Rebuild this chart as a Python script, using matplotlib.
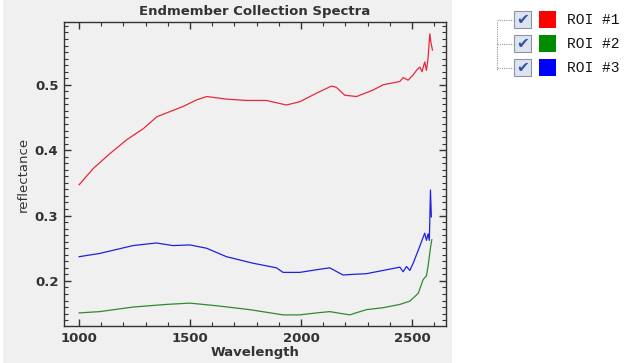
import matplotlib
matplotlib.use("Agg")
import matplotlib.pyplot as plt
from matplotlib.patches import Rectangle
from matplotlib.lines import Line2D
from matplotlib.ticker import MultipleLocator

# spectra (wavelength, reflectance)
wl_red = [1000, 1064, 1140, 1215, 1290, 1350, 1410, 1470, 1530, 1575, 1665, 1755, 1844,
          1934, 1994, 2069, 2137, 2159, 2197, 2250, 2325, 2370, 2445, 2460, 2482, 2505,
          2520, 2535, 2545, 2557, 2565, 2572, 2580, 2585, 2592]
refl_red = [0.347, 0.372, 0.395, 0.416, 0.433, 0.451, 0.459, 0.467, 0.477, 0.482, 0.478,
            0.476, 0.476, 0.469, 0.474, 0.487, 0.498, 0.496, 0.484, 0.482, 0.492, 0.500,
            0.505, 0.511, 0.507, 0.515, 0.522, 0.527, 0.520, 0.535, 0.522, 0.540, 0.578,
            0.565, 0.553]

wl_blue = [1000, 1093, 1243, 1348, 1423, 1499, 1574, 1664, 1784, 1889, 1919, 1994, 2069,
           2129, 2189, 2234, 2294, 2370, 2445, 2460, 2475, 2490, 2505, 2535, 2557, 2565,
           2572, 2578, 2583, 2587]
refl_blue = [0.237, 0.242, 0.254, 0.258, 0.254, 0.255, 0.250, 0.237, 0.227, 0.220, 0.213,
             0.213, 0.217, 0.220, 0.209, 0.210, 0.211, 0.216, 0.221, 0.214, 0.222, 0.216,
             0.227, 0.253, 0.273, 0.262, 0.272, 0.262, 0.339, 0.298]

wl_green = [1000, 1093, 1243, 1393, 1499, 1619, 1769, 1919, 1994, 2069, 2129, 2219, 2294,
            2370, 2445, 2490, 2528, 2550, 2565, 2572, 2584, 2589]
refl_green = [0.151, 0.153, 0.160, 0.164, 0.166, 0.162, 0.156, 0.148, 0.148, 0.151, 0.153,
              0.148, 0.156, 0.159, 0.164, 0.169, 0.181, 0.202, 0.208, 0.222, 0.253, 0.263]

roi_names = ["ROI #1", "ROI #2", "ROI #3"]
roi_colors = ["#ff0000", "#008c00", "#0000ff"]

fig = plt.figure(figsize=(6.27, 3.63), dpi=100, facecolor="white")
# grey panel behind the plot
fig.patches.append(Rectangle((3 / 627, 0), 449 / 627, 1, transform=fig.transFigure,
                             facecolor="#f0f0f0", edgecolor="none", zorder=-5))

ax = fig.add_axes([64 / 627, 1 - 326 / 363, 382 / 627, 304 / 363])
ax.set_facecolor("#f0f0f0")
ax.plot(wl_red, refl_red, color="#e8283c", lw=0.9)
ax.plot(wl_blue, refl_blue, color="#2020e0", lw=0.9)
ax.plot(wl_green, refl_green, color="#2e8b2e", lw=0.9)

ax.set_xlim(932, 2653)
ax.set_ylim(0.131, 0.596)
ax.xaxis.set_major_locator(MultipleLocator(500))
ax.xaxis.set_minor_locator(MultipleLocator(100))
ax.yaxis.set_major_locator(MultipleLocator(0.1))
ax.yaxis.set_minor_locator(MultipleLocator(0.01))
ax.tick_params(which="both", direction="in", top=True, right=True, color="#333333")
ax.tick_params(which="major", length=5, width=1.0)
ax.tick_params(which="minor", length=3, width=0.8)
ax.tick_params(labelsize=9.5, labelcolor="#333333", pad=4)
for lab in ax.get_xticklabels() + ax.get_yticklabels():
    lab.set_fontweight("bold")
for s in ax.spines.values():
    s.set_color("#333333")
    s.set_linewidth(1.0)

ax.set_title("Endmember Collection Spectra", fontsize=9.5, fontweight="bold",
             color="#333333", pad=5)
ax.set_xlabel("Wavelength", fontsize=9.5, fontweight="bold", color="#333333", labelpad=1)
ax.set_ylabel("reflectance", fontsize=9.5, color="#333333", labelpad=4)

# tree style legend on the right
rows_y = [20, 44, 68]
fig.add_artist(Line2D([497 / 627, 497 / 627], [1 - 22 / 363, 1 - 70 / 363],
                      transform=fig.transFigure, color="#999999", lw=0.8, ls=(0, (1, 1))))
for name, col, y in zip(roi_names, roi_colors, rows_y):
    fy = 1 - y / 363
    fig.add_artist(Line2D([497 / 627, 513 / 627], [fy, fy], transform=fig.transFigure,
                          color="#999999", lw=0.8, ls=(0, (1, 1))))
    fig.patches.append(Rectangle((514 / 627, fy - 8 / 363), 17 / 627, 17 / 363,
                                 transform=fig.transFigure, facecolor="#dde4ee",
                                 edgecolor="#8a94a6", lw=0.8))
    fig.text(522.5 / 627, fy + 0.5 / 363, "\u2714", fontsize=11, color="#3050b0",
             ha="center", va="center")
    fig.patches.append(Rectangle((539 / 627, fy - 8 / 363), 17 / 627, 17 / 363,
                                 transform=fig.transFigure, facecolor=col, edgecolor="none"))
    fig.text(567 / 627, fy, name, fontsize=10.5, family="Liberation Mono", color="#111111",
             ha="left", va="center")

fig.savefig("out.png", dpi=100, facecolor=fig.get_facecolor())
